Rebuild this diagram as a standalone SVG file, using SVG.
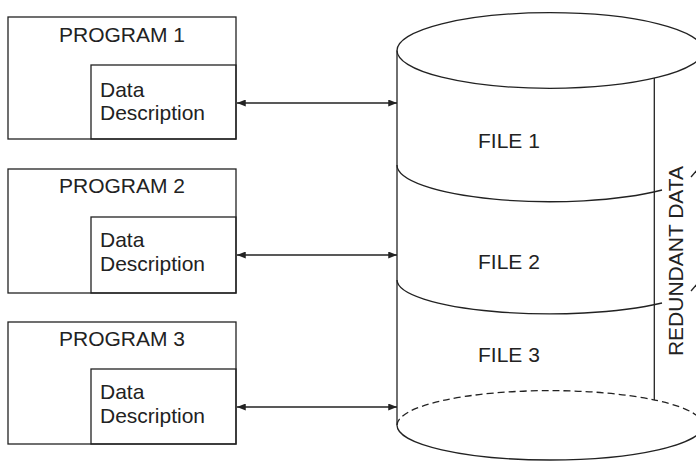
<svg xmlns="http://www.w3.org/2000/svg" width="696" height="462" viewBox="0 0 696 462">
  <style>
    .box { fill: none; stroke: #222; stroke-width: 1.3; }
    .line { fill: none; stroke: #222; stroke-width: 1.3; }
    .dash { fill: none; stroke: #222; stroke-width: 1.3; stroke-dasharray: 7 4; }
    .lbl { font-family: "Liberation Sans", Arial, sans-serif; font-size: 21px; fill: #222; }
    .mid { text-anchor: middle; }
  </style>
  <defs>
    <marker id="head" viewBox="0 0 10 8" refX="10" refY="4" markerWidth="9" markerHeight="7" markerUnits="userSpaceOnUse" orient="auto-start-reverse">
      <path d="M0,0 L10,4 L0,8 Z" fill="#222"/>
    </marker>
  </defs>
  <rect width="696" height="462" fill="#fff"/>

  <!-- programs, each with an embedded data description -->
  <g id="program1">
    <rect class="box" x="8" y="17" width="228" height="122"/>
    <rect class="box" x="91" y="65" width="145" height="74"/>
    <text class="lbl mid" x="122" y="42">PROGRAM 1</text>
    <text class="lbl" x="100" y="97">Data</text>
    <text class="lbl" x="100" y="120">Description</text>
  </g>
  <g id="program2">
    <rect class="box" x="8" y="169" width="228" height="124"/>
    <rect class="box" x="91" y="217" width="145" height="76"/>
    <text class="lbl mid" x="122" y="193">PROGRAM 2</text>
    <text class="lbl" x="100" y="247">Data</text>
    <text class="lbl" x="100" y="271">Description</text>
  </g>
  <g id="program3">
    <rect class="box" x="8" y="322" width="228" height="122"/>
    <rect class="box" x="91" y="369" width="145" height="75"/>
    <text class="lbl mid" x="122" y="346">PROGRAM 3</text>
    <text class="lbl" x="100" y="399">Data</text>
    <text class="lbl" x="100" y="423">Description</text>
  </g>

  <!-- file store drawn as a cylinder split into three files -->
  <g id="files">
    <ellipse class="line" cx="550" cy="50.5" rx="153" ry="37.8"/>
    <line class="line" x1="397" y1="50.5" x2="397" y2="425.3"/>
    <line class="line" x1="654.3" y1="78" x2="654.3" y2="400"/>
    <path class="line" d="M397,165 A153,36.7 0 0 0 662,190"/>
    <path class="line" d="M397,280 A153,34 0 0 0 662,303"/>
    <path class="dash" d="M397,425.3 A153,34.7 0 0 1 703,425.3"/>
    <path class="line" d="M397,425.3 A153,34.7 0 0 0 703,425.3"/>
    <text class="lbl" x="478" y="148">FILE 1</text>
    <text class="lbl" x="478" y="269">FILE 2</text>
    <text class="lbl" x="478" y="362">FILE 3</text>
  </g>

  <g id="redundant">
    <text class="lbl mid" transform="translate(683,261) rotate(-90)">REDUNDANT DATA</text>
    <line class="line" x1="691" y1="177" x2="697" y2="170"/>
    <line class="line" x1="691" y1="291" x2="697" y2="284"/>
  </g>

  <!-- two-way links between descriptions and files -->
  <g id="connectors">
    <line class="line" x1="237" y1="103" x2="397" y2="103" marker-start="url(#head)" marker-end="url(#head)"/>
    <line class="line" x1="237" y1="255" x2="397" y2="255" marker-start="url(#head)" marker-end="url(#head)"/>
    <line class="line" x1="237" y1="407" x2="397" y2="407" marker-start="url(#head)" marker-end="url(#head)"/>
  </g>
</svg>
